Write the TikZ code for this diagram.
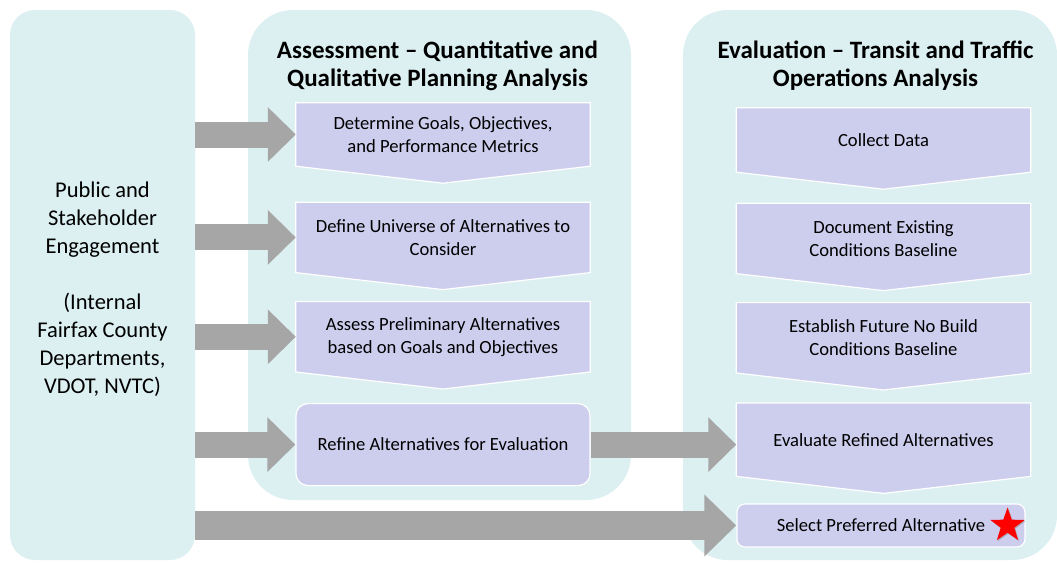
\documentclass[tikz,border=0pt]{standalone}
\usepackage{fontspec}
\setmainfont{Carlito}
\usetikzlibrary{positioning,arrows.meta,backgrounds,shapes.geometric,shadows}
\definecolor{panelcol}{RGB}{220,240,242}
\definecolor{boxcol}{RGB}{205,205,238}
\definecolor{arrowcol}{RGB}{166,166,166}
\begin{document}
\begin{tikzpicture}[x=1pt, y=-1pt]
		\tikzstyle{panel} = [fill=panelcol, rounded corners=45pt, inner sep=0pt]
		\tikzstyle{title} = [align=center, font=\fontsize{25}{28}\selectfont\bfseries]
		\tikzstyle{stepbox} = [minimum width=294pt, align=center, inner sep=0pt, font=\fontsize{18.6}{23}\selectfont]
		\tikzstyle{roundbox} = [stepbox, fill=boxcol, draw=white, line width=1.2pt, rounded corners=12pt]
		\tikzstyle{flow} = [arrowcol, line width=26pt, -{Triangle[length=28pt, width=53pt]}]

		\useasboundingbox (0,0) rectangle (1057,563);

		% Assessment column
		\node[stepbox, minimum height=63pt] (goals) at (443,134.5) {Determine Goals, Objectives,\\and Performance Metrics};
		\node[stepbox, minimum height=70pt, below=36pt of goals] (universe) {Define Universe of Alternatives to\\Consider};
		\node[stepbox, minimum height=70pt, below=29pt of universe] (prelim) {Assess Preliminary Alternatives\\based on Goals and Objectives};
		\node[roundbox, minimum height=82pt, below=31pt of prelim] (refine) {Refine Alternatives for Evaluation};

		% Evaluation column
		\node[stepbox, minimum height=64pt] (collect) at (883.5,140) {Collect Data};
		\node[stepbox, minimum height=70pt, below=31pt of collect] (existing) {Document Existing\\Conditions Baseline};
		\node[stepbox, minimum height=70pt, below=29pt of existing] (nobuild) {Establish Future No Build\\Conditions Baseline};
		\node[stepbox, minimum height=73pt, below=30pt of nobuild] (evaluate) {Evaluate Refined Alternatives};
		\node[roundbox, rounded corners=8pt, minimum width=288pt, minimum height=43pt,
			below=27pt of evaluate.south west, anchor=north west] (select) {Select Preferred Alternative};
		\node[star, star points=5, star point ratio=2.5, fill=red, inner sep=0pt, minimum size=36pt,
			drop shadow={opacity=0.45, shadow xshift=1pt, shadow yshift=-1pt}] (prefstar) at ([xshift=-18pt]select.east) {};

		% Titles
		\node[title] (assesstitle) at (437.5,66) {Assessment – Quantitative and\\Qualitative Planning Analysis};
		\node[title] (evaltitle) at (875.5,66) {Evaluation – Transit and Traffic\\Operations Analysis};

		% Panels and chevrons behind the text
		\begin{scope}[on background layer]
			\fill[white] (0,0) rectangle (1057,563);
			\node[panel, rounded corners=25pt, minimum width=185pt, minimum height=550pt, align=center,
				font=\fontsize{22.5}{28}\selectfont] (public) at (102.5,285)
				{\rule{0pt}{24pt}Public and\\Stakeholder\\Engagement\\[28pt](Internal\\Fairfax County\\Departments,\\VDOT, NVTC)};
			\node[panel, minimum width=383pt, minimum height=490pt] (assess) at (439.5,255) {};
			\node[panel, minimum width=374pt, minimum height=550pt] (evalpanel) at (870,285) {};
			\foreach \n in {goals,universe,prelim,collect,existing,nobuild,evaluate}
				\filldraw[fill=boxcol, draw=white, line width=1.2pt] (\n.north west) -- (\n.north east)
					-- (\n.south east) -- ([yshift=-17pt]\n.south) -- (\n.south west) -- cycle;
		\end{scope}

		% Block arrows
		\foreach \n in {goals,universe,prelim,refine}
			\draw[flow] (public.east |- \n.west) -- (\n.west);
		\draw[flow] (refine.east) -- (refine.east -| evaluate.west);
		\draw[flow, line width=29pt, -{Triangle[length=32pt, width=60pt]}] (public.east |- select.west) -- (select.west);

		\end{tikzpicture}
\end{document}
